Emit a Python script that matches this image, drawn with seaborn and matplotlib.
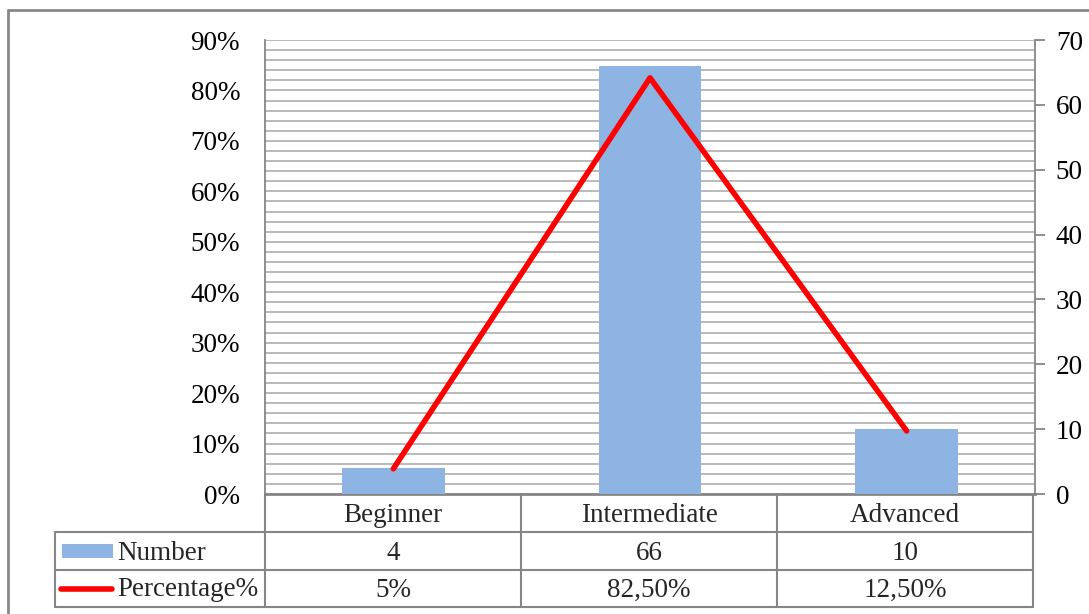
import matplotlib
matplotlib.use("Agg")
import matplotlib.pyplot as plt
from matplotlib.lines import Line2D
from matplotlib.patches import Rectangle
from matplotlib.ticker import MultipleLocator, FuncFormatter
import seaborn as sns
import pandas as pd

# Data
levels = ["Beginner", "Intermediate", "Advanced"]
numbers = [4, 66, 10]
percentages = [0.05, 0.825, 0.125]
number_labels = ["4", "66", "10"]
percentage_labels = ["5%", "82,50%", "12,50%"]

sns.set_theme(style="white")
plt.rcParams["font.family"] = ["Liberation Serif", "DejaVu Serif"]

W, H = 1089, 614
fig = plt.figure(figsize=(W / 100, H / 100), dpi=100)

def fx(px):
    return px / W

def fy(py):
    return 1 - py / H

left, right, top, bottom = 265, 1035, 40, 494
ax = fig.add_axes([fx(left), fy(bottom), fx(right - left), (bottom - top) / H])
ax2 = ax.twinx()

grid_col = "#BABABA"
axis_col = "#868686"
fs = 19.5

# Percentage axis (left) carries the gridlines
ax.set_ylim(0, 0.9)
ax.set_xlim(-0.5, 2.5)
ax.yaxis.set_major_locator(MultipleLocator(0.1))
ax.yaxis.set_minor_locator(MultipleLocator(0.02))
ax.yaxis.set_major_formatter(FuncFormatter(lambda v, p: f"{round(v * 100)}%"))
ax.grid(True, which="both", axis="y", color=grid_col, lw=1.4)
ax.set_axisbelow(True)
ax.tick_params(axis="y", which="both", length=0, labelsize=fs, pad=18, colors="black")
ax.tick_params(axis="x", length=0, labelbottom=False)
for s in ["top", "right"]:
    ax.spines[s].set_visible(False)
ax.spines["left"].set_color(axis_col)
ax.spines["left"].set_linewidth(1.3)
ax.spines["bottom"].set_color(axis_col)
ax.spines["bottom"].set_linewidth(2)

# Number axis (right) carries the bars
df = pd.DataFrame({"level": levels, "number": numbers})
sns.barplot(data=df, x="level", y="number", ax=ax2, color="#8EB4E3",
            saturation=1, width=0.4, linewidth=0, edgecolor="none", zorder=2)
ax2.set_ylim(0, 70)
ax2.set_xlim(-0.5, 2.5)
ax2.yaxis.set_major_locator(MultipleLocator(10))
ax2.tick_params(axis="y", direction="out", length=7, width=1.3,
                labelsize=fs, pad=8, colors="black")
ax2.tick_params(axis="y", color=axis_col)
ax2.set_xlabel("")
ax2.set_ylabel("")
ax2.tick_params(axis="x", length=0, labelbottom=False)
for s in ["top", "left", "bottom"]:
    ax2.spines[s].set_visible(False)
ax2.spines["right"].set_color(axis_col)
ax2.spines["right"].set_linewidth(1.3)
ax2.grid(False)

# Percentage line drawn in the percentage scale, above the bars
ax2.plot(range(len(levels)), percentages, color="#FF0000", lw=4,
         solid_capstyle="round", transform=ax.transData, zorder=5)

# Data table under the plot
row_edges = [494, 532, 570, 607]
col_edges = [265, 521, 777, 1033]
tbl_left = 55
lw_t = 1.5

def hline(y, x0, x1):
    fig.add_artist(Line2D([fx(x0), fx(x1)], [fy(y), fy(y)], color=axis_col, lw=lw_t))

def vline(x, y0, y1):
    fig.add_artist(Line2D([fx(x), fx(x)], [fy(y0), fy(y1)], color=axis_col, lw=lw_t))

for y in row_edges[1:]:
    hline(y, tbl_left, col_edges[-1])
for x in col_edges:
    vline(x, row_edges[0], row_edges[-1])
vline(tbl_left, row_edges[1], row_edges[-1])

rows = [levels, number_labels, percentage_labels]
for r, cells in enumerate(rows):
    yc = (row_edges[r] + row_edges[r + 1]) / 2 + 2
    for c, txt in enumerate(cells):
        xc = (col_edges[c] + col_edges[c + 1]) / 2
        fig.text(fx(xc), fy(yc), txt, ha="center", va="center", fontsize=fs)

# Legend keys in the row headers
fig.add_artist(Rectangle((fx(62), fy(558)), fx(51), 14 / H, color="#8EB4E3", lw=0))
fig.text(fx(117), fy(553), "Number", ha="left", va="center", fontsize=fs)
fig.add_artist(Line2D([fx(61), fx(112)], [fy(589), fy(589)], color="#FF0000", lw=4,
                      solid_capstyle="round"))
fig.text(fx(117), fy(590), "Percentage%", ha="left", va="center", fontsize=fs)

# Chart frame
fig.add_artist(Line2D([fx(8), fx(8)], [fy(10), 0], color="#888888", lw=2))
fig.add_artist(Line2D([fx(8), 1], [fy(10), fy(10)], color="#888888", lw=2))

fig.savefig("out.png", dpi=100)
